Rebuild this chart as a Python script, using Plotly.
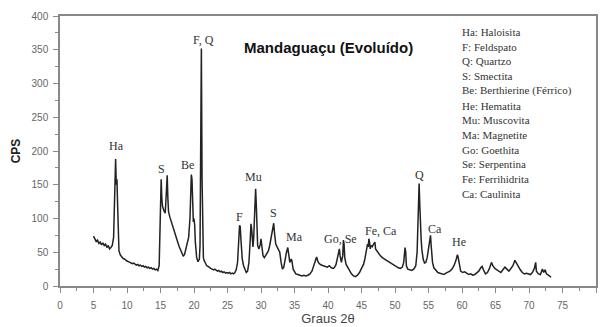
import plotly.graph_objects as go

# 2-theta (degrees) and intensity (CPS)
two_theta = [
    5.0, 5.2, 5.4, 5.6, 5.8, 6.0, 6.2, 6.4, 6.6, 6.8, 7.0, 7.2, 7.4, 7.6, 7.8, 8.0,
    8.1, 8.2, 8.3, 8.4, 8.5, 8.6, 8.7, 8.8, 9.0, 9.2, 9.4, 9.6, 9.8, 10.0, 10.2, 10.4,
    10.6, 10.8, 11.0, 11.2, 11.4, 11.6, 11.8, 12.0, 12.2, 12.4, 12.6, 12.8, 13.0, 13.2,
    13.4, 13.6, 13.8, 14.0, 14.2, 14.4, 14.6, 14.8, 14.9, 15.0, 15.1, 15.2, 15.3, 15.5,
    15.7, 15.8, 15.9, 16.0, 16.1, 16.2, 16.4, 16.6, 16.8, 17.0, 17.2, 17.4, 17.6, 17.8,
    18.0, 18.2, 18.4, 18.6, 18.8, 19.0, 19.2, 19.4, 19.5, 19.6, 19.7, 19.8, 19.9, 20.0,
    20.1, 20.2, 20.4, 20.6, 20.8, 20.9, 21.0, 21.1, 21.2, 21.3, 21.4, 21.5, 21.7, 21.9,
    22.1, 22.3, 22.5, 22.7, 22.9, 23.1, 23.3, 23.5, 23.7, 23.9, 24.1, 24.3, 24.5, 24.7,
    24.9, 25.1, 25.3, 25.5, 25.7, 25.9, 26.1, 26.3, 26.5, 26.7, 26.8, 26.9, 27.0, 27.2,
    27.4, 27.6, 27.8, 28.0, 28.2, 28.4, 28.5, 28.6, 28.7, 28.8, 28.9, 29.0, 29.1, 29.2,
    29.3, 29.4, 29.5, 29.7, 29.9, 30.0, 30.1, 30.3, 30.5, 30.7, 30.9, 31.1, 31.3, 31.5,
    31.7, 31.9, 32.0, 32.2, 32.4, 32.6, 32.8, 33.0, 33.2, 33.4, 33.6, 33.8, 34.0, 34.1,
    34.3, 34.5, 34.6, 34.8, 35.0, 35.2, 35.5, 35.8, 36.1, 36.4, 36.7, 37.0, 37.3, 37.6,
    37.9, 38.1, 38.3, 38.5, 38.7, 39.0, 39.3, 39.6, 39.9, 40.2, 40.5, 40.8, 41.0, 41.2,
    41.4, 41.6, 41.7, 41.8, 42.0, 42.2, 42.3, 42.4, 42.5, 42.7, 42.9, 43.2, 43.5, 43.8,
    44.1, 44.4, 44.7, 45.0, 45.3, 45.5, 45.7, 45.9, 46.0, 46.1, 46.2, 46.3, 46.4, 46.6,
    46.8, 47.0, 47.1, 47.3, 47.5, 47.8, 48.1, 48.4, 48.7, 49.0, 49.3, 49.6, 49.9, 50.2,
    50.5, 50.8, 51.1, 51.3, 51.5, 51.6, 51.7, 51.9, 52.2, 52.5, 52.8, 53.1, 53.3, 53.5,
    53.6, 53.7, 53.8, 53.9, 54.0, 54.2, 54.4, 54.6, 54.8, 55.0, 55.2, 55.3, 55.4, 55.6,
    55.8, 56.1, 56.4, 56.7, 57.0, 57.3, 57.6, 57.9, 58.2, 58.5, 58.8, 59.1, 59.3, 59.4,
    59.6, 59.8, 60.1, 60.4, 60.7, 61.0, 61.3, 61.6, 61.9, 62.2, 62.5, 62.8, 63.0, 63.2,
    63.5, 63.8, 64.1, 64.4, 64.6, 64.9, 65.2, 65.5, 65.8, 66.1, 66.4, 66.7, 67.0, 67.3,
    67.6, 67.9, 68.1, 68.4, 68.7, 69.0, 69.3, 69.6, 69.9, 70.2, 70.5, 70.8, 71.0, 71.1,
    71.4, 71.7, 72.0, 72.2, 72.4, 72.6, 72.9, 73.2, 73.3,
]
cps = [
    74, 70, 66, 68, 63, 65, 61, 64, 60, 62, 57, 60, 55, 57, 60, 72,
    110, 160, 188, 150, 158, 120, 70, 52, 46, 43, 41, 40, 38, 37, 36, 35,
    34, 33, 34, 32, 31, 32, 30, 31, 29, 30, 28, 29, 27, 28,
    26, 27, 25, 26, 24, 25, 23, 30, 80, 140, 158, 130, 118, 112,
    108, 125, 155, 164, 130, 110, 102, 95, 88, 82, 76, 70, 64, 58,
    53, 48, 44, 47, 55, 62, 72, 100, 140, 165, 158, 120, 95, 100,
    90, 65, 42, 36, 40, 60, 200, 352, 160, 50, 42, 38, 33, 30,
    29, 27, 26, 25, 24, 25, 23, 22, 23, 21, 22, 20, 21, 19,
    20, 19, 20, 18, 19, 18, 20, 24, 35, 70, 90, 88, 70, 40,
    30, 26, 20, 22, 35, 70, 92, 85, 62, 58, 70, 100, 130, 144,
    120, 85, 60, 55, 62, 70, 60, 45, 42, 45, 48, 52, 60, 72,
    82, 93, 80, 62, 58, 55, 50, 35, 25, 28, 40, 50, 57, 48,
    35, 40, 38, 25, 20, 18, 17, 16, 15, 16, 15, 16, 18, 22,
    30, 38, 43, 36, 33, 31, 30, 29, 28, 30, 27, 26, 28, 32,
    40, 50, 55, 45, 35, 45, 68, 62, 42, 32, 28, 22, 18, 15,
    14, 16, 20, 26, 32, 40, 50, 62, 58, 70, 65, 55, 60, 58,
    62, 65, 55, 52, 48, 45, 42, 40, 38, 37, 34, 32, 30, 28,
    27, 26, 28, 35, 57, 50, 30, 25, 24, 23, 25, 30, 50, 110,
    152, 120, 75, 70, 55, 40, 34, 35, 42, 55, 70, 75, 60, 35,
    27, 23, 20, 19, 18, 17, 19, 20, 22, 25, 30, 38, 46, 44,
    30, 22, 20, 21, 19, 17, 18, 16, 17, 20, 22, 27, 29, 24,
    18, 20, 26, 35, 30, 26, 24, 22, 20, 24, 28, 25, 22, 26,
    30, 38, 34, 28, 24, 20, 18, 19, 18, 17, 20, 26, 35, 22,
    18, 17, 25, 20, 24, 18, 16, 14, 13,
]

# peak labels
peak_labels = ["Ha", "S", "Be", "F, Q", "F", "Mu", "S", "Ma", "Go, Se", "Fe, Ca", "Q", "Ca", "He"]
peak_x = [8.4, 15.1, 19.0, 21.4, 26.8, 28.9, 31.9, 35.0, 41.9, 47.9, 53.7, 55.9, 59.6]
peak_y = [207, 174, 179, 365, 102, 162, 108, 72, 70, 82, 165, 85, 65]

# key of phases
legend_lines = [
    "Ha: Haloisita", "F: Feldspato", "Q: Quartzo", "S: Smectita",
    "Be: Berthierine (Férrico)", "He: Hematita", "Mu: Muscovita", "Ma: Magnetite",
    "Go: Goethita", "Se: Serpentina", "Fe: Ferrihidrita", "Ca: Caulinita",
]

x_ticks = list(range(0, 81, 5))
y_ticks = list(range(0, 401, 50))

fig = go.Figure()
fig.add_trace(go.Scatter(
    x=two_theta, y=cps, mode="lines",
    line=dict(color="#222222", width=1.5),
    showlegend=False, hoverinfo="skip",
))

serif = "Liberation Serif, Times New Roman, serif"
L, R, T, B = 60, 2, 16, 41
W, H = 600, 327
pw, ph = W - L - R, H - T - B

annotations = []
for t, x, y in zip(peak_labels, peak_x, peak_y):
    annotations.append(dict(x=x, y=y, xref="x", yref="y", text=t, showarrow=False,
                            font=dict(family=serif, size=12, color="#333333")))
for i, t in enumerate(legend_lines):
    px, py = 461, 32 + i * 14.7
    annotations.append(dict(x=(px - L) / pw, y=1 - (py - T) / ph, xref="paper", yref="paper",
                            text=t, showarrow=False, xanchor="left", yanchor="middle",
                            font=dict(family=serif, size=11, color="#333333")))

annotations.append(dict(x=(330 - L) / pw, y=1 - (37 - T) / ph, xref="paper", yref="paper",
                        text="<b>Mandaguaçu (Evoluído)</b>", showarrow=False,
                        font=dict(family="Liberation Sans, Arial, sans-serif", size=15, color="#111111")))

fig.update_layout(
    width=W, height=H,
    margin=dict(l=L, r=R, t=T, b=B),
    paper_bgcolor="white", plot_bgcolor="white",
    annotations=annotations,
    font=dict(family="Liberation Sans, Arial, sans-serif"),
)
axis_common = dict(
    showgrid=False, zeroline=False, showline=True, linecolor="#888888", linewidth=1.5,
    mirror=True, ticks="outside", ticklen=5, tickcolor="#888888", tickwidth=1,
    tickfont=dict(size=10, color="#666666"),
)
fig.update_xaxes(
    range=[0, 80], tickvals=x_ticks, ticktext=[str(v) for v in x_ticks],
    minor=dict(dtick=2.5, ticks="outside", ticklen=3, tickcolor="#888888"),
    ticklabelstandoff=4,
    title=dict(text="Graus 2θ", font=dict(size=13, color="#444444"), standoff=4),
    **axis_common,
)
fig.update_yaxes(
    range=[0, 400], tickvals=y_ticks, ticktext=[str(v) for v in y_ticks],
    minor=dict(dtick=25, ticks="outside", ticklen=3, tickcolor="#888888"),
    ticklabelstandoff=3,
    title=dict(text="<b>CPS</b>", font=dict(size=12, color="#222222"), standoff=8),
    **axis_common,
)

fig.write_html("out.html")
